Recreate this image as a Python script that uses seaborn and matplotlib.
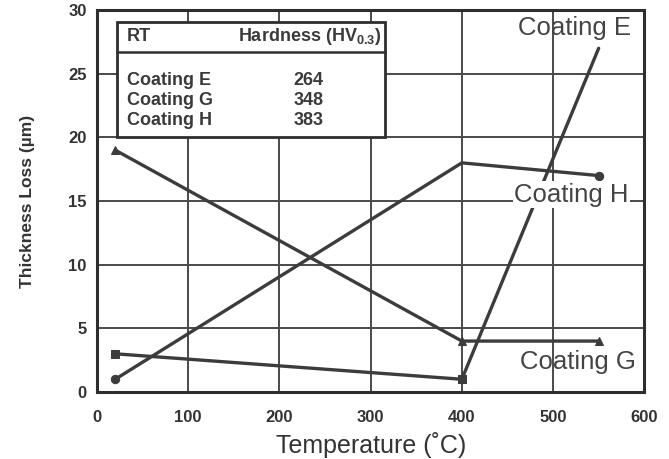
import matplotlib
matplotlib.use("Agg")
import matplotlib.pyplot as plt
import seaborn as sns
import pandas as pd
from matplotlib.patches import Rectangle

temperature = [20, 400, 550]
coating_e = [3, 1, 27]
coating_g = [19, 4, 4]
coating_h = [1, 18, 17]
series_names = ["Coating E", "Coating G", "Coating H"]
hardness = [264, 348, 383]
x_ticks = [0, 100, 200, 300, 400, 500, 600]
y_ticks = [0, 5, 10, 15, 20, 25, 30]

sns.set_theme(style="white")
plt.rcParams['font.family'] = ['Liberation Sans', 'DejaVu Sans']
plt.rcParams['mathtext.fontset'] = 'custom'
plt.rcParams['mathtext.rm'] = 'Liberation Sans'
plt.rcParams['mathtext.bf'] = 'Liberation Sans:bold'

fig = plt.figure(figsize=(6.69, 4.59), dpi=100)
ax = fig.add_axes([0.145, 0.146, 0.818, 0.832])

line_col = "#3c3c3c"
markers = {"Coating E": "s", "Coating G": "^", "Coating H": "o"}
mark_points = {"Coating E": [0, 1], "Coating G": [0, 1, 2], "Coating H": [0, 2]}
for name, vals in zip(series_names, [coating_e, coating_g, coating_h]):
    d = pd.DataFrame({"Temperature": temperature, "Loss": vals})
    sns.lineplot(data=d, x="Temperature", y="Loss", color=line_col, marker=markers[name],
                 markevery=mark_points[name], markersize=6, linewidth=2.4,
                 markeredgecolor=line_col, ax=ax, zorder=2)

ax.set_xlim(0, 600)
ax.set_ylim(0, 30)
ax.set_xticks(x_ticks)
ax.set_yticks(y_ticks)
ax.grid(True, color="#4a4a4a", linewidth=1.4)
ax.set_axisbelow(True)
for s in ax.spines.values():
    s.set_color("#2e2e2e")
    s.set_linewidth(2.2)
ax.tick_params(axis="both", direction="inout", length=8, width=1.6, color="#2e2e2e",
               labelsize=12, labelcolor="#333333")
ax.tick_params(axis="x", pad=9)
for lab in ax.get_xticklabels() + ax.get_yticklabels():
    lab.set_fontweight("bold")

ax.set_xlabel("Temperature (˚C)", fontsize=18, color="#333333", labelpad=5)
ax.set_ylabel("Thickness Loss (µm)", fontsize=12.5, fontweight="bold", color="#333333",
              labelpad=24)

# series labels
lbl = dict(fontsize=18.5, color="#444444", va="center", ha="left", zorder=6)
ax.text(462, 28.6, "Coating E", **lbl)
ax.text(457, 15.5, "Coating H",
        bbox=dict(facecolor="white", edgecolor="none", pad=1.0), **lbl)
ax.text(464, 2.35, "Coating G", **lbl)

# hardness table
ax.add_patch(Rectangle((22, 20.0), 294, 9.1, fill=True, facecolor="white",
                       edgecolor="#2e2e2e", linewidth=2.0, zorder=3))
ax.plot([22, 316], [26.7, 26.7], color="#2e2e2e", linewidth=1.8, zorder=4)
tc = "#3a3a3a"
fs = 13
ax.text(33, 27.9, "RT", fontsize=fs, fontweight="bold", color=tc, va="center", zorder=5)
ax.text(312, 27.9, r"Hardness (HV$_{\mathbf{0.3}}$)", fontsize=fs, fontweight="bold",
        color=tc, va="center", ha="right", zorder=5)
row_y = [24.5, 22.9, 21.3]
for name, hv, yy in zip(series_names, hardness, row_y):
    ax.text(33, yy, name, fontsize=fs, fontweight="bold", color=tc, va="center", zorder=5)
    ax.text(232, yy, str(hv), fontsize=fs, fontweight="bold", color=tc, va="center",
            ha="center", zorder=5)

fig.savefig("out.png", dpi=100, facecolor="white")
